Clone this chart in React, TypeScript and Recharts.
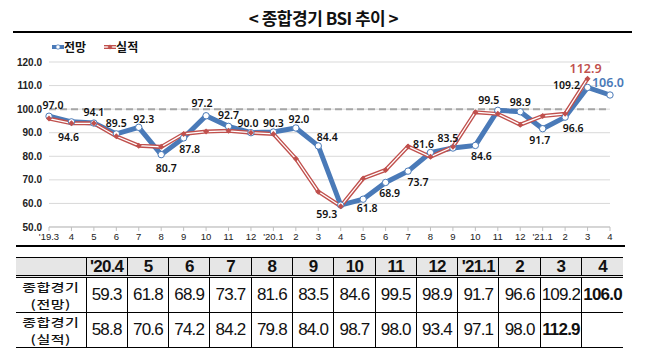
import {
  LineChart,
  Line,
  XAxis,
  YAxis,
  CartesianGrid,
  ReferenceLine,
  LabelList,
} from "recharts";

const MONTHS = [
  "'19.3", "4", "5", "6", "7", "8", "9", "10", "11", "12",
  "'20.1", "2", "3", "4", "5", "6", "7", "8", "9", "10", "11", "12",
  "'21.1", "2", "3", "4",
];

// 전망
const OUTLOOK = [
  97.0, 94.6, 94.1, 89.5, 92.3, 80.7, 87.8, 97.2, 92.7, 90.0,
  90.3, 92.0, 84.4, 59.3, 61.8, 68.9, 73.7, 81.6, 83.5, 84.6, 99.5, 98.9,
  91.7, 96.6, 109.2, 106.0,
];

// 실적
const ACTUAL = [
  96.0, 94.0, 94.0, 88.5, 84.5, 84.0, 89.5, 90.5, 90.8, 90.0,
  89.5, 79.0, 65.0, 58.8, 70.6, 74.2, 84.2, 79.8, 84.0, 98.7, 98.0, 93.4,
  97.1, 98.0, 112.9, null,
];

const TABLE_HEADERS = ["'20.4", "5", "6", "7", "8", "9", "10", "11", "12", "'21.1", "2", "3", "4"];
const TABLE_START = 13;
const ROW_NAMES = ["(전망)", "(실적)"];

const Y_TICKS = [50, 60, 70, 80, 90, 100, 110, 120];

// label placement for the outlook values (offset of text centre from point)
const LABEL_DX = [4, -3, 0, 0, 5, 5, 6, -4, 0, -3, 0, 3, 9, -14, 4, 4, 10, -7, -5, 6, -9, 0, -3, 8, -21, -2];
const LABEL_DY = [-11, 15, -11, -11, -8, 13, 11, -13, -11, -10, -9, -9, -9, 9, 9, 11, 11, -9, -10, 11, -10, -10, 11, 11, -2, -13];

const BLUE = "#4a7ab8";
const RED = "#c0504d";
const LABEL_FONT = "'Noto Sans', 'Liberation Sans', sans-serif";
const KR_FONT = "'Noto Sans CJK KR', 'Noto Sans', sans-serif";
const TABLE_FONT = "'Liberation Sans', Arial, sans-serif";

const data = MONTHS.map((month, i) => ({
  month,
  outlook: OUTLOOK[i],
  actual: ACTUAL[i],
}));

const BlueDot = (p: any) => {
  if (p.cx == null || p.cy == null) return <g key={`bd-${p.index}`} />;
  return (
    <circle key={`bd-${p.index}`} cx={p.cx} cy={p.cy} r={3.2} fill="#fff" stroke={BLUE} strokeWidth={1} />
  );
};

const RedDot = (p: any) => {
  if (p.cx == null || p.cy == null || p.value == null) return <g key={`rd-${p.index}`} />;
  const s = 3;
  return (
    <path
      key={`rd-${p.index}`}
      d={`M${p.cx},${p.cy - s} L${p.cx + s},${p.cy} L${p.cx},${p.cy + s} L${p.cx - s},${p.cy} Z`}
      fill={RED}
    />
  );
};

const blueLabel = (p: any) => {
  const i = p.index;
  const last = i === OUTLOOK.length - 1;
  return (
    <text
      key={`bl-${i}`}
      x={p.x + LABEL_DX[i]}
      y={p.y + LABEL_DY[i]}
      textAnchor="middle"
      dominantBaseline="central"
      fontFamily={LABEL_FONT}
      fontSize={last ? 12.5 : 10.5}
      fontWeight={600}
      fill={last ? BLUE : "#111"}
    >
      {Number(p.value).toFixed(1)}
    </text>
  );
};

const redLabel = (p: any) => {
  if (p.index !== 24) return <g key={`rl-${p.index}`} />;
  return (
    <text
      key={`rl-${p.index}`}
      x={p.x - 2}
      y={p.y - 10}
      textAnchor="middle"
      dominantBaseline="central"
      fontFamily={LABEL_FONT}
      fontSize={12.5}
      fontWeight={600}
      fill={RED}
    >
      {Number(p.value).toFixed(1)}
    </text>
  );
};

const RowLabel = ({ name }: { name: string }) => {
  const line = {
    height: 17,
    lineHeight: "17px",
    fontFamily: KR_FONT,
    fontSize: 15,
    fontWeight: 500,
    letterSpacing: 0.5,
    color: "#111",
    transform: "scaleY(0.78)",
    whiteSpace: "nowrap" as const,
  };
  return (
    <>
      <div style={line}>종합경기</div>
      <div style={line}>{name}</div>
    </>
  );
};

export default function App() {
  const border = "1px solid #000";
  const cell = {
    padding: 0,
    textAlign: "center" as const,
    borderLeft: border,
    fontFamily: TABLE_FONT,
    fontSize: 17,
    letterSpacing: -0.8,
    color: "#111",
  };
  const labelCell = { padding: 0, textAlign: "center" as const, borderBottom: border };
  const lastOutlook = OUTLOOK.length - 1;
  const lastActual = ACTUAL.reduce((acc: number, v, i) => (v != null ? i : acc), 0);

  return (
    <div
      style={{
        position: "absolute",
        left: 0,
        top: 0,
        width: 647,
        height: 364,
        background: "#fff",
        overflow: "hidden",
      }}
    >
      {/* title */}
      <div
        style={{
          position: "absolute",
          top: 5,
          left: 0,
          width: 647,
          textAlign: "center",
          fontFamily: KR_FONT,
          fontWeight: 700,
          fontSize: 17,
          letterSpacing: -0.5,
          color: "#111",
        }}
      >
        {"< 종합경기 BSI 추이 >"}
      </div>
      <div style={{ position: "absolute", left: 13, top: 31, width: 619, height: 1.5, background: "#000" }} />

      {/* legend */}
      <div
        style={{
          position: "absolute",
          left: 52,
          top: 38,
          display: "flex",
          alignItems: "center",
          fontFamily: KR_FONT,
          fontSize: 12,
          fontWeight: 700,
          color: "#111",
        }}
      >
        <svg width={12} height={8}>
          <line x1={0} y1={4} x2={12} y2={4} stroke={BLUE} strokeWidth={4} />
          <circle cx={6} cy={4} r={2.2} fill="#fff" stroke={BLUE} strokeWidth={0.8} />
        </svg>
        <span style={{ marginRight: 18 }}>전망</span>
        <svg width={12} height={8}>
          <line x1={0} y1={4} x2={12} y2={4} stroke={RED} strokeWidth={4} />
          <line x1={0} y1={4} x2={12} y2={4} stroke="#fff" strokeWidth={1.3} />
          <path d="M6,1.5 L8.5,4 L6,6.5 L3.5,4 Z" fill={RED} />
        </svg>
        <span>실적</span>
      </div>

      <div style={{ position: "absolute", left: 0, top: 0 }}>
        <LineChart
          width={647}
          height={250}
          data={data}
          margin={{ top: 62, right: 37, left: 0, bottom: 0 }}
        >
          <CartesianGrid horizontal vertical={false} stroke="#d9d9d9" />
          <XAxis
            dataKey="month"
            interval={0}
            height={23}
            tickSize={4}
            tickMargin={2}
            stroke="#bfbfbf"
            tick={{ fontSize: 9.5, fill: "#222", fontFamily: TABLE_FONT }}
          />
          <YAxis
            domain={[50, 120]}
            ticks={Y_TICKS}
            width={49}
            axisLine={false}
            tickLine={false}
            tickSize={0}
            tickMargin={7}
            tickFormatter={(v: number) => v.toFixed(1)}
            tick={{ fontSize: 10, fill: "#222", fontFamily: TABLE_FONT, fontWeight: 700 }}
          />
          <ReferenceLine y={100} stroke="#a6a6a6" strokeWidth={2} strokeDasharray="7 4" />
          <Line
            type="linear"
            dataKey="outlook"
            stroke={BLUE}
            strokeWidth={5}
            dot={BlueDot}
            activeDot={false}
            isAnimationActive={false}
          >
            <LabelList dataKey="outlook" content={blueLabel} />
          </Line>
          <Line
            type="linear"
            dataKey="actual"
            stroke={RED}
            strokeWidth={4}
            dot={false}
            activeDot={false}
            isAnimationActive={false}
          />
          <Line
            type="linear"
            dataKey="actual"
            stroke="#fff"
            strokeWidth={1.3}
            dot={false}
            activeDot={false}
            isAnimationActive={false}
          />
          <Line
            type="linear"
            dataKey="actual"
            stroke="none"
            dot={RedDot}
            activeDot={false}
            isAnimationActive={false}
          >
            <LabelList dataKey="actual" content={redLabel} />
          </Line>
        </LineChart>
      </div>

      <div style={{ position: "absolute", left: 16, top: 245, width: 609, height: 1.5, background: "#000" }} />

      {/* table */}
      <table
        style={{
          position: "absolute",
          left: 16,
          top: 257,
          width: 607,
          borderCollapse: "collapse",
          tableLayout: "fixed",
        }}
      >
        <colgroup>
          <col style={{ width: 70 }} />
          {TABLE_HEADERS.map((h) => (
            <col key={h + "c"} style={{ width: 41.3 }} />
          ))}
        </colgroup>
        <tbody>
          <tr style={{ height: 18, background: "#e6e6e6" }}>
            <td style={{ padding: 0, borderTop: border, borderBottom: "3px double #000" }} />
            {TABLE_HEADERS.map((h, i) => (
              <td
                key={"h" + i}
                style={{
                  ...cell,
                  borderTop: border,
                  borderBottom: "3px double #000",
                  fontWeight: 700,
                  lineHeight: "17px",
                }}
              >
                {h}
              </td>
            ))}
          </tr>
          <tr style={{ height: 34 }}>
            <td style={labelCell}>
              <RowLabel name={ROW_NAMES[0]} />
            </td>
            {TABLE_HEADERS.map((_, i) => {
              const idx = TABLE_START + i;
              return (
                <td
                  key={"o" + i}
                  style={{ ...cell, borderBottom: border, fontWeight: idx === lastOutlook ? 700 : 400 }}
                >
                  {OUTLOOK[idx].toFixed(1)}
                </td>
              );
            })}
          </tr>
          <tr style={{ height: 35 }}>
            <td style={labelCell}>
              <RowLabel name={ROW_NAMES[1]} />
            </td>
            {TABLE_HEADERS.map((_, i) => {
              const idx = TABLE_START + i;
              const v = ACTUAL[idx];
              return (
                <td
                  key={"a" + i}
                  style={{ ...cell, borderBottom: border, fontWeight: idx === lastActual ? 700 : 400 }}
                >
                  {v != null ? v.toFixed(1) : ""}
                </td>
              );
            })}
          </tr>
        </tbody>
      </table>
    </div>
  );
}
